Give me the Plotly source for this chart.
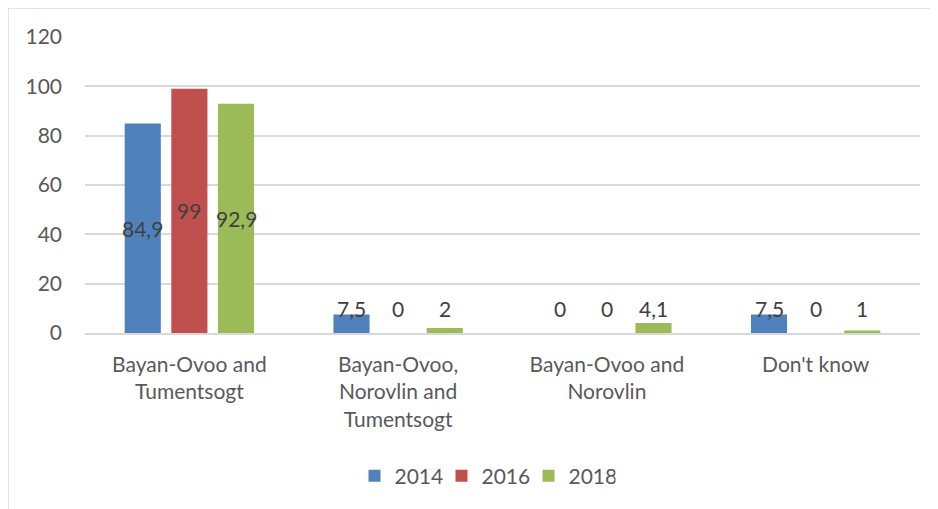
import plotly.graph_objects as go

categories = ["Bayan-Ovoo and<br>Tumentsogt", "Bayan-Ovoo,<br>Norovlin and<br>Tumentsogt",
              "Bayan-Ovoo and<br>Norovlin", "Don't know"]
series_names = ["2014", "2016", "2018"]
v2014 = [84.9, 7.5, 0, 7.5]
v2016 = [99, 0, 0, 0]
v2018 = [92.9, 2, 4.1, 1]
yticks = [0, 20, 40, 60, 80, 100, 120]

colors = ["#4F81BD", "#C0504D", "#9BBB59"]
FONT = "Lato"
TXT = "#595959"
FS = 21

# page body has an 8px margin, so the figure is drawn 8px in from the corner
OFF = 8
W, H = 938 - OFF, 509 - OFF
L, T = 85 - OFF, 37 - OFF
R = W - (920 - OFF)
B = H - (333 - OFF)
pw = W - L - R
ph = H - T - B

BARGAP = 0.33
GROUPGAP = 0.225

fig = go.Figure()
all_vals = [v2014, v2016, v2018]
for name, vals, c in zip(series_names, all_vals, colors):
    fig.add_trace(go.Bar(x=categories, y=vals, name=name, marker_color=c,
                         marker_line_width=0))

# data labels (Excel style: centered, or lifted when bar too small)
slot = pw / 4 * (1 - BARGAP) / 3
annotations = []
for i, vals in enumerate(all_vals):
    for cat, v in zip(categories, vals):
        ypos = v / 2 if v / 2 > 10 else 10
        annotations.append(dict(x=cat, y=ypos, xref="x", yref="y",
                                text=str(v).replace(".", ","), showarrow=False,
                                xshift=(i - 1) * slot,
                                font=dict(family=FONT, size=FS, color="#404040")))

def px_x(p):
    return (p - OFF - L) / pw
def px_y(p):
    return 1 - (p - OFF - T) / ph

# chart frame (top and left edges)
shapes = [
    dict(type="line", xref="paper", yref="paper", x0=px_x(8), x1=px_x(930),
         y0=px_y(8), y1=px_y(8), line=dict(color="#d9d9d9", width=1.5)),
    dict(type="line", xref="paper", yref="paper", x0=px_x(8), x1=px_x(8),
         y0=px_y(8), y1=px_y(520), line=dict(color="#d9d9d9", width=1.5)),
]

fig.update_layout(
    width=W, height=H,
    margin=dict(l=L, r=R, t=T, b=B),
    paper_bgcolor="white", plot_bgcolor="white",
    barmode="group", bargap=BARGAP, bargroupgap=GROUPGAP,
    font=dict(family=FONT, size=FS, color=TXT),
    showlegend=True,
    legend=dict(orientation="h", x=px_x(485), xanchor="center", y=px_y(476), yanchor="middle",
                font=dict(family=FONT, size=FS, color=TXT), traceorder="normal",
                itemwidth=30, entrywidth=42),
    annotations=annotations,
    shapes=shapes,
)
fig.update_xaxes(showgrid=False, showline=True, linecolor="#d9d9d9", linewidth=1.5,
                 ticks="", tickfont=dict(family=FONT, size=FS, color=TXT),
                 ticklabelstandoff=12)
fig.update_yaxes(range=[0, 120], tickvals=yticks, showgrid=True, gridcolor="#d9d9d9",
                 gridwidth=1.5, zeroline=False, showline=False, ticks="",
                 tickfont=dict(family=FONT, size=FS, color=TXT), ticklabelstandoff=22)

fig.write_html("out.html")
